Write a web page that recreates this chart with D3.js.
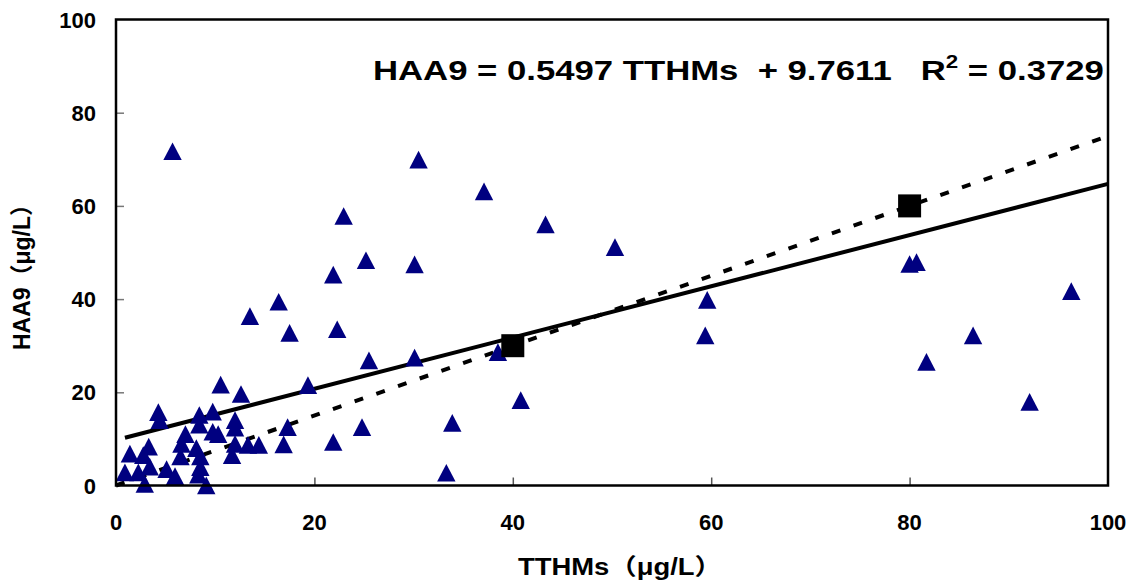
<!DOCTYPE html>
<html>
<head>
<meta charset="utf-8">
<script src="https://cdn.jsdelivr.net/npm/d3@7"></script>
<style>
  body { margin: 0; background: #fff; }
  text { font-family: Arial, "Liberation Sans", "Noto Sans CJK SC", sans-serif; font-weight: bold; }
</style>
</head>
<body>
<svg id="viz" width="1141" height="583"></svg>
<script>
// measured points, TTHMs vs HAA9 (ug/L)
var tthms = [0.9, 2.25, 1.4, 2.75, 3.3, 3.4, 2.9, 4.27, 4.4, 5.1, 5.95, 5.7, 6.5, 6.6, 7.0, 8.1, 8.3, 8.5, 8.5, 8.4,
  8.4, 9.1, 9.75, 9.75, 10.3, 10.55, 11.7, 12.0, 12.0, 12.0, 12.6, 13.3, 13.5, 14.4, 16.4, 16.9, 17.3, 17.5, 19.35, 21.9,
  21.9, 22.3, 22.95, 24.8, 25.2, 25.5, 30.1, 30.1, 30.5, 33.3, 33.9, 37.1, 38.5, 40.8, 43.3, 50.3, 59.6, 59.4, 80.0, 80.7,
  81.7, 86.4, 92.1, 96.3];
var haa9 = [2.8, 2.8, 6.8, 6.5, 8.3, 4.0, 0.3, 15.7, 14.0, 3.5, 2.0, 71.7, 6.2, 8.9, 11.0, 8.0, 2.3, 3.9, 6.2, 13.0,
  15.1, 0.0, 15.8, 11.5, 11.0, 21.6, 6.5, 8.9, 12.4, 14.0, 19.6, 8.7, 36.3, 8.7, 39.4, 8.8, 12.5, 32.7, 21.5, 45.2,
  9.3, 33.5, 57.8, 12.5, 48.3, 26.8, 47.4, 27.4, 69.9, 2.7, 13.4, 63.1, 28.6, 18.3, 56.0, 51.1, 39.8, 32.2, 47.5, 47.9,
  26.5, 32.2, 17.9, 41.7];

// reference points (black squares)
var refX = [40, 80];
var refY = [30, 60];

var slope = 0.5497, intercept = 9.7611;
var guideSlope = 0.75;
var xTicks = [0, 20, 40, 60, 80, 100];
var yTicks = [0, 20, 40, 60, 80, 100];

(function() {
  var svg = d3.select("#viz");
  var pLeft = 116, pRight = 1108, pTop = 19.5, pBottom = 485.5;

  var x = d3.scaleLinear().domain([0, 100]).range([pLeft, pRight]);
  var y = d3.scaleLinear().domain([0, 100]).range([pBottom, pTop]);

  // ticks inside the plot
  svg.append("g")
    .attr("transform", "translate(" + pLeft + ",0)")
    .call(d3.axisRight(y).tickValues(yTicks.slice(1, -1)).tickSize(8).tickFormat(""))
    .call(function(g) {
      g.select(".domain").remove();
      g.selectAll("line").attr("stroke", "#777").attr("stroke-width", 1.5);
    });
  svg.append("g")
    .attr("transform", "translate(0," + pBottom + ")")
    .call(d3.axisTop(x).tickValues(xTicks.slice(1, -1)).tickSize(8).tickFormat(""))
    .call(function(g) {
      g.select(".domain").remove();
      g.selectAll("line").attr("stroke", "#555").attr("stroke-width", 1.5);
    });

  // tick labels
  svg.append("g").selectAll("text")
    .data(yTicks)
    .enter()
    .append("text")
    .attr("x", 96)
    .attr("y", function(d) { return y(d) + 8; })
    .attr("text-anchor", "end")
    .attr("font-size", 22)
    .text(function(d) { return d; });

  svg.append("g").selectAll("text")
    .data(xTicks)
    .enter()
    .append("text")
    .attr("x", function(d) { return x(d); })
    .attr("y", 530)
    .attr("text-anchor", "middle")
    .attr("font-size", 22)
    .text(function(d) { return d; });

  // trend lines
  svg.append("line")
    .attr("x1", x(0)).attr("y1", y(0))
    .attr("x2", x(100)).attr("y2", y(100 * guideSlope))
    .attr("stroke", "#000").attr("stroke-width", 4)
    .attr("stroke-dasharray", "9,14");

  var xmin = d3.min(tthms);
  svg.append("line")
    .attr("x1", x(xmin)).attr("y1", y(slope * xmin + intercept))
    .attr("x2", x(100)).attr("y2", y(slope * 100 + intercept))
    .attr("stroke", "#000").attr("stroke-width", 4);

  // triangles
  var pts = tthms.map(function(d, i) { return [d, haa9[i]]; });
  svg.append("g").selectAll("path")
    .data(pts)
    .enter()
    .append("path")
    .attr("d", "M0,-9L9.2,8.7L-9.2,8.7Z")
    .attr("fill", "#000080")
    .attr("transform", function(d) { return "translate(" + x(d[0]) + "," + y(d[1]) + ")"; });

  // squares
  svg.append("g").selectAll("rect")
    .data(refX)
    .enter()
    .append("rect")
    .attr("x", function(d) { return x(d) - 11.5; })
    .attr("y", function(d, i) { return y(refY[i]) - 11.5; })
    .attr("width", 23)
    .attr("height", 23)
    .attr("fill", "#000");

  // frame
  svg.append("rect")
    .attr("x", pLeft).attr("y", pTop)
    .attr("width", pRight - pLeft).attr("height", pBottom - pTop)
    .attr("fill", "none").attr("stroke", "#000").attr("stroke-width", 2.5);

  // equation (stretched a bit wider, like the original)
  var eq = svg.append("text")
    .attr("xml:space", "preserve")
    .attr("transform", "translate(373,80) scale(1.24,1)")
    .attr("font-size", 28);
  eq.append("tspan").text("HAA9 = 0.5497 TTHMs  + 9.7611   R");
  eq.append("tspan").attr("font-size", 18).attr("dy", -12).text("2");
  eq.append("tspan").attr("dy", 12).text(" = 0.3729");

  // axis titles
  svg.append("text")
    .attr("x", 518)
    .attr("y", 575)
    .attr("font-size", 23)
    .attr("textLength", 204)
    .attr("lengthAdjust", "spacingAndGlyphs")
    .text("TTHMs（μg/L）");

  svg.append("text")
    .attr("transform", "translate(30,350) rotate(-90)")
    .attr("font-size", 23)
    .attr("textLength", 157)
    .attr("lengthAdjust", "spacingAndGlyphs")
    .text("HAA9（μg/L）");
})();
</script>
</body>
</html>
